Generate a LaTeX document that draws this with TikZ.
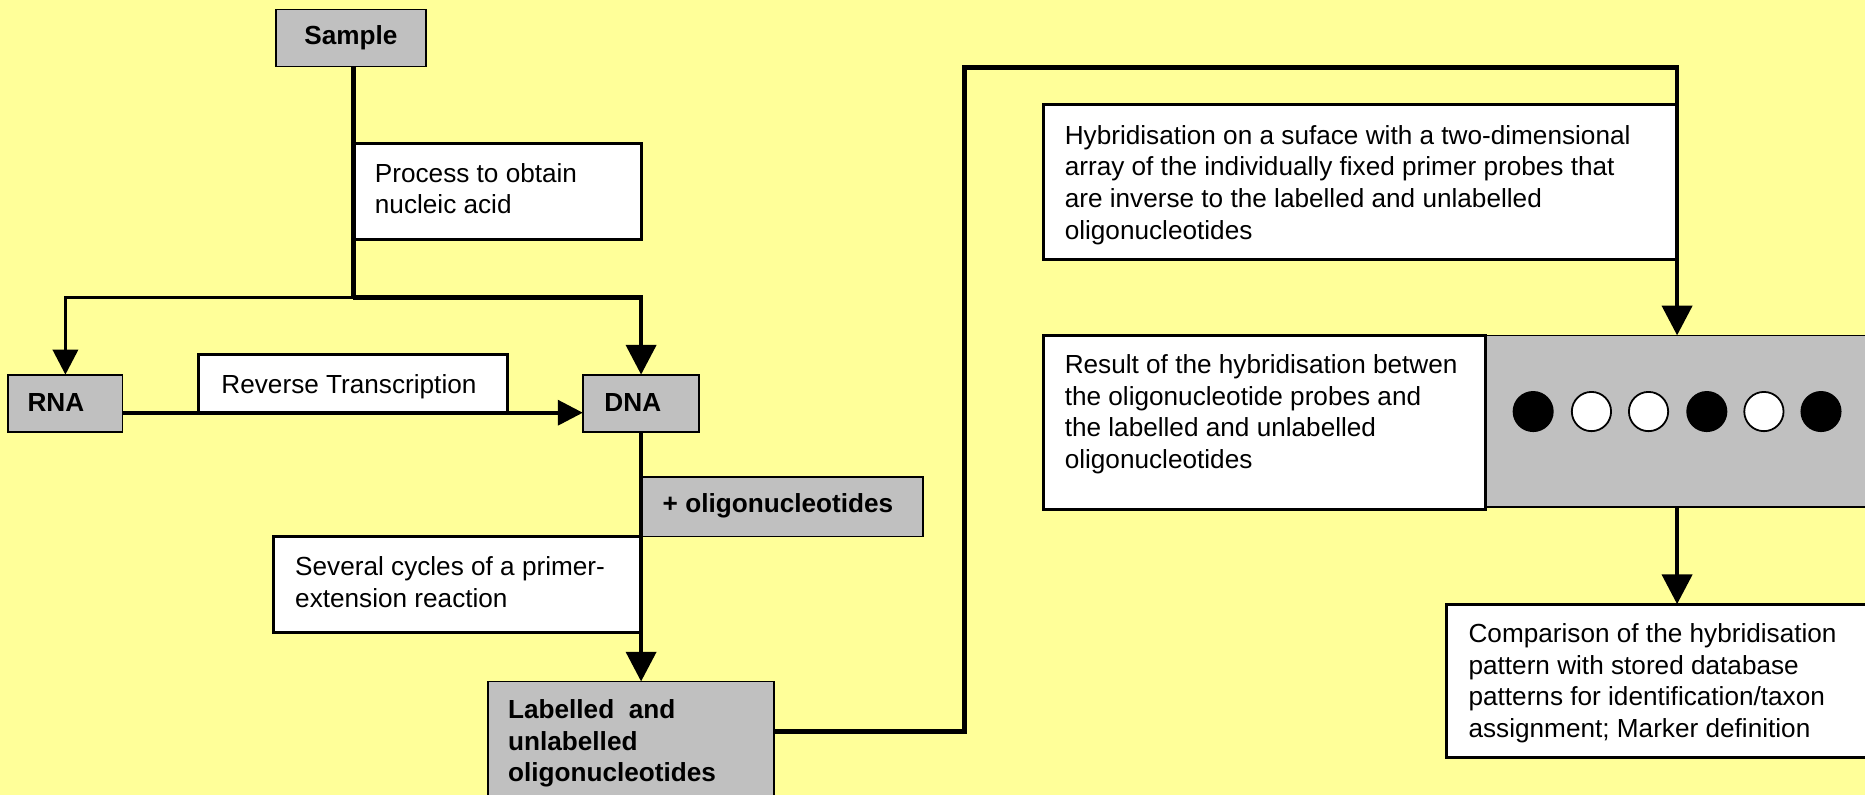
\documentclass[tikz,border=0pt]{standalone}
\usepackage{fontspec}
\setmainfont{Liberation Sans}
\usetikzlibrary{arrows.meta}
\definecolor{bg}{HTML}{FFFF99}
\definecolor{boxgray}{HTML}{C0C0C0}
\begin{document}
\begin{tikzpicture}[x=1pt,y=-1pt,
  gbox/.style={draw, line width=1.5pt, fill=boxgray, inner sep=0pt, outer sep=0pt},
  wbox/.style={draw, line width=2.5pt, fill=white, inner sep=0pt, outer sep=0pt},
  txt/.style={anchor=north west, inner sep=0pt, align=left, font=\fontsize{22}{26.6}\selectfont},
  btxt/.style={inner sep=0pt, font=\fontsize{22}{26.6}\selectfont\bfseries},
  conn/.style={line width=4pt},
  thinconn/.style={line width=3pt},
  bigtip/.style={-{Triangle[length=25pt,width=25pt]}},
  smalltip/.style={-{Triangle[length=21pt,width=21pt]}},
  dot/.style={circle, draw, line width=1.5pt, minimum size=33pt, inner sep=0pt}]
\useasboundingbox (0,0) rectangle (1568,668);
\fill[bg] (0,0) rectangle (1568,668);

% boxes
\node[gbox, minimum width=126pt, minimum height=48pt] (sample) at (295,32) {};
\node[btxt] (samplet) at (295,32) {Sample};
\node[wbox, minimum width=242pt, minimum height=80pt] (proc) at (418,161) {};
\node[txt] (proct) at (315,137) {Process to obtain\\nucleic acid};
\node[gbox, minimum width=96pt, minimum height=48pt] (rna) at (55,339) {};
\node[btxt, anchor=west] (rnat) at (23,338) {RNA};
\node[gbox, minimum width=98pt, minimum height=48pt] (dna) at (539,339) {};
\node[btxt, anchor=west] (dnat) at (508,338) {DNA};
\node[wbox, minimum width=260pt, minimum height=49pt] (rt) at (297,322.5) {};
\node[txt] (rtt) at (186,315) {Reverse Transcription};
\node[gbox, minimum width=237pt, minimum height=50pt] (oligo) at (657.5,426) {};
\node[btxt, anchor=west] (oligot) at (557,425) {+ oligonucleotides};
\node[wbox, minimum width=309pt, minimum height=81pt] (cyc) at (384.5,491.5) {};
\node[txt] (cyct) at (248,468) {Several cycles of a primer-\\extension reaction};
\node[gbox, minimum width=241pt, minimum height=127pt] (lab) at (530.5,636.5) {};
\node[txt, font=\fontsize{22}{26.6}\selectfont\bfseries] (labt) at (427,588) {Labelled\ \ and\\unlabelled\\oligonucleotides};
\node[wbox, minimum width=533pt, minimum height=130pt] (hyb) at (1143.5,153) {};
\node[txt] (hybt) at (895,105) {Hybridisation on a suface with a two-dimensional\\array of the individually fixed primer probes that\\are inverse to the labelled and unlabelled\\oligonucleotides};
\node[gbox, minimum width=324pt, minimum height=144pt] (gray) at (1411,354) {};
\node[wbox, minimum width=372pt, minimum height=146pt] (res) at (1063,355) {};
\node[txt] (rest) at (895,298) {Result of the hybridisation betwen\\the oligonucleotide probes and\\the labelled and unlabelled\\oligonucleotides};
\node[wbox, minimum width=390pt, minimum height=129pt] (cmp) at (1411,572.5) {};
\node[txt] (cmpt) at (1234.5,524) {Comparison of the hybridisation\\pattern with stored database\\patterns for identification/taxon\\assignment; Marker definition};

% dots
\node[dot, fill=black] (d1) at (1289,346) {};
\node[dot, fill=white] (d2) at (1338,346) {};
\node[dot, fill=white] (d3) at (1386,346) {};
\node[dot, fill=black] (d4) at (1435,346) {};
\node[dot, fill=white] (d5) at (1483,346) {};
\node[dot, fill=black] (d6) at (1531,346) {};

% connectors
\coordinate (j1) at (297,250);
\coordinate (c1) at (811,615);
\coordinate (c3) at (1410,57);
\draw[conn] (sample.south -| j1) -- (j1);
\draw[thinconn, smalltip] (j1) -| (rna.north);
\draw[conn, bigtip] (j1) -| (dna.north);
\draw[thinconn, smalltip] (rna.east |- rt.south) -- (dna.west |- rt.south);
\draw[conn, bigtip] (dna.south) -- (dna.south |- lab.north);
\draw[conn, bigtip] (lab.east |- c1) -- (c1) |- (c3) -- (c3 |- gray.north);
\draw[conn, bigtip] (gray.south -| c3) -- (c3 |- cmp.north);
\end{tikzpicture}
\end{document}
